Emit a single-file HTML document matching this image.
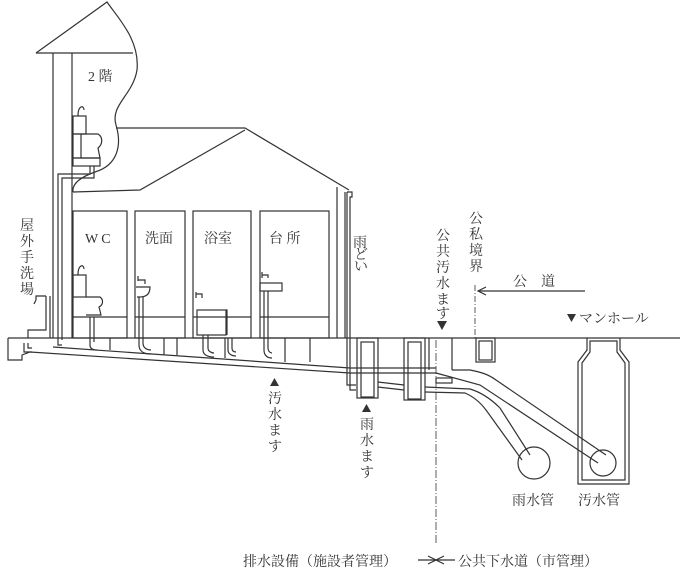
<!DOCTYPE html>
<html><head><meta charset="utf-8"><style>
html,body{margin:0;padding:0;background:#fff;}
svg{display:block;}
text{font-family:"Liberation Serif","Noto Serif CJK SC","Noto Sans CJK JP",serif;fill:#333;font-size:14px;}
</style></head><body>
<svg width="700" height="580" viewBox="0 0 700 580" xmlns="http://www.w3.org/2000/svg">
<g fill="none" stroke="#333" stroke-width="1.2">
<path d="M36,53 L107,2 C118,18 140,40 137,70 C133,95 110,105 116,125 C122,145 118,165 95,172 C78,178 72,185 73,192"/>
<line x1="36" y1="53" x2="133" y2="53"/>
<line x1="53" y1="53" x2="53" y2="338"/>
<line x1="72" y1="53" x2="72" y2="338"/>
<path d="M116,128 L245,128 L349,190"/>
<path d="M73,192 L140,190 L245,130"/>
<line x1="337" y1="187" x2="337" y2="338"/>
<line x1="345" y1="192" x2="345" y2="338"/>
<path d="M347,192 L352,192 L352,197 L350,197 L350,390 L356,390"/>
<path d="M347,192 L347,385 L356,385"/>
<rect x="73" y="211" width="54" height="127"/>
<rect x="135" y="211" width="50" height="127"/>
<rect x="193" y="211" width="58" height="127"/>
<rect x="260" y="211" width="69" height="127"/>
<line x1="73" y1="317" x2="127" y2="317"/>
<line x1="135" y1="317" x2="185" y2="317"/>
<line x1="193" y1="317" x2="251" y2="317"/>
<line x1="260" y1="317" x2="329" y2="317"/>
<rect x="73" y="116" width="13" height="18"/><rect x="73" y="134" width="8" height="24"/>
<path d="M81,134 L98,134 C103,137 103,144 98,148 L100,158 L81,158"/>
<rect x="73" y="158" width="27" height="8"/>
<path d="M90,166 L90,174 L58,174 L58,345 L62,345 M94,166 L94,178 L62,178 L62,340"/>
<path d="M78,116 C78,105 84,105 84,110"/>
<rect x="73" y="275" width="13" height="22"/><path d="M86,297 L100,297 C104,300 103,305 99,307 L101,315 L86,315"/>
<path d="M78,275 C78,264 84,264 84,269"/>
<path d="M90,317 L90,345 C90,350 95,350 97,350 M94,317 L94,342"/>
<path d="M136,287 L150,287 C150,295 145,297 140,297 L137,297"/><path d="M138,281 L138,276 M138,280 L145,280 L145,284"/>
<path d="M139,297 L139,345 C139,352 145,354 151,354 M143,297 L143,343 C143,348 147,350 151,350"/>
<rect x="197" y="310" width="29" height="25"/><path d="M226,310 L227,310 L227,335"/>
<path d="M196,292 L196,298 M196,294 L202,294 L202,298"/>
<path d="M203,335 L203,350 C203,355 208,357 214,357 M208,335 L208,348 C208,351 211,353 214,353"/>
<path d="M228,338 L228,350 C228,354 232,356 236,356 M232,338 L232,348 C232,351 234,352 236,352"/>
<rect x="260" y="283" width="22" height="8"/><path d="M262,272 L262,278 M262,275 L268,275 L268,278"/>
<path d="M264,291 L264,350 C264,356 268,358 272,358 M268,291 L268,348 C268,351 270,353 272,353"/>
<path d="M46,296 L46,330 L28,330 L28,338 M50,296 L50,338"/><path d="M36,300 L36,296 L46,296 M34,304 L36,300"/>
<path d="M24,343 L24,352 L32,352 M28,343 L28,348 L32,348"/>
<line x1="8" y1="338" x2="680" y2="338"/>
<path d="M8,338 L8,360 L22,360 L22,355 L30,352 L350,373 L436,373"/>
<path d="M53,347 L350,368 L436,368"/>
<path d="M110,338 L110,350 M177,338 L177,355 M164,338 L164,355 M225,338 L225,358 M285,338 L285,362 M310,338 L310,362"/>
<rect x="357" y="338" width="21" height="60"/><rect x="361" y="342" width="13" height="55"/>
<rect x="404" y="338" width="21" height="62"/><rect x="408" y="342" width="13" height="57"/>
<rect x="476" y="338" width="19" height="24"/><rect x="479" y="341" width="13" height="19"/>
<line x1="429" y1="338" x2="429" y2="370"/><line x1="452" y1="338" x2="452" y2="370"/>
<path d="M436,373 L480,385 L598,463"/>
<path d="M452,370 L470,370 C480,372 488,374 496,380 L606,455"/>
<rect x="436" y="378" width="16" height="5"/>
<path d="M378,382 L404,385 M378,387 L404,390 M425,387 L470,389 C480,392 490,398 500,408 L530,455 M425,392 L465,393 C472,396 480,402 486,410 L522,460"/>
<circle cx="534" cy="463" r="16"/>
<circle cx="603" cy="463" r="13"/>
<path d="M587,338 L587,350 L578,362 L578,484 L629,484 L629,362 L620,350 L620,338"/>
<path d="M590,341 L590,352 L582,363 L582,480 L625,480 L625,363 L617,352 L617,341 Z"/>
<line x1="436" y1="340" x2="436" y2="545" stroke-dasharray="8,2,1,2" stroke-width="0.8"/>
<line x1="475" y1="285" x2="475" y2="338" stroke-dasharray="6,2,1,2" stroke-width="0.8"/>
<line x1="478" y1="291" x2="585" y2="291"/>
<path d="M486,287 L478,291 L486,295"/>
<line x1="418" y1="560" x2="455" y2="560"/>
<path d="M428,556 L436,560 L428,564 M444,556 L436,560 L444,564"/>
</g>
<g fill="#333">
<path d="M437,321 L447,321 L442,330 Z"/>
<path d="M567,314 L576,314 L571.5,322 Z"/>
<path d="M270,386 L279,386 L274.5,378 Z"/>
<path d="M362,412 L371,412 L366.5,404 Z"/>
</g>
<text x="88" y="81">2 階</text>
<text x="85" y="243" letter-spacing="3">WC</text>
<text x="145" y="243">洗面</text>
<text x="204" y="243">浴室</text>
<text x="269" y="243">台 所</text>
<text x="20" y="230" font-size="13">屋</text><text x="20" y="246" font-size="13">外</text><text x="20" y="262" font-size="13">手</text><text x="20" y="278" font-size="13">洗</text><text x="20" y="294" font-size="13">場</text>
<text x="353" y="247" font-size="12">雨</text><text x="354" y="259" font-size="11">ど</text><text x="354" y="271" font-size="11">い</text>
<text x="436" y="240" font-size="13">公</text><text x="436" y="256" font-size="13">共</text><text x="436" y="272" font-size="13">汚</text><text x="436" y="288" font-size="13">水</text><text x="436" y="304" font-size="13">ま</text><text x="436" y="318" font-size="13">す</text>
<text x="469" y="223" font-size="13">公</text><text x="469" y="239" font-size="13">私</text><text x="469" y="255" font-size="13">境</text><text x="469" y="271" font-size="13">界</text>
<text x="513" y="286">公　道</text>
<text x="579" y="323" font-size="13">マンホール</text>
<text x="268" y="403" font-size="13">汚</text><text x="268" y="419" font-size="13">水</text><text x="268" y="435" font-size="13">ま</text><text x="268" y="451" font-size="13">す</text>
<text x="360" y="429" font-size="13">雨</text><text x="360" y="445" font-size="13">水</text><text x="360" y="461" font-size="13">ま</text><text x="360" y="477" font-size="13">す</text>
<text x="512" y="505" font-size="14">雨水管</text>
<text x="578" y="505" font-size="14">汚水管</text>
<text x="243" y="566" font-size="13">排水設備（施設者管理）</text>
<text x="458" y="566" font-size="13">公共下水道（市管理）</text>
</svg>
</body></html>
